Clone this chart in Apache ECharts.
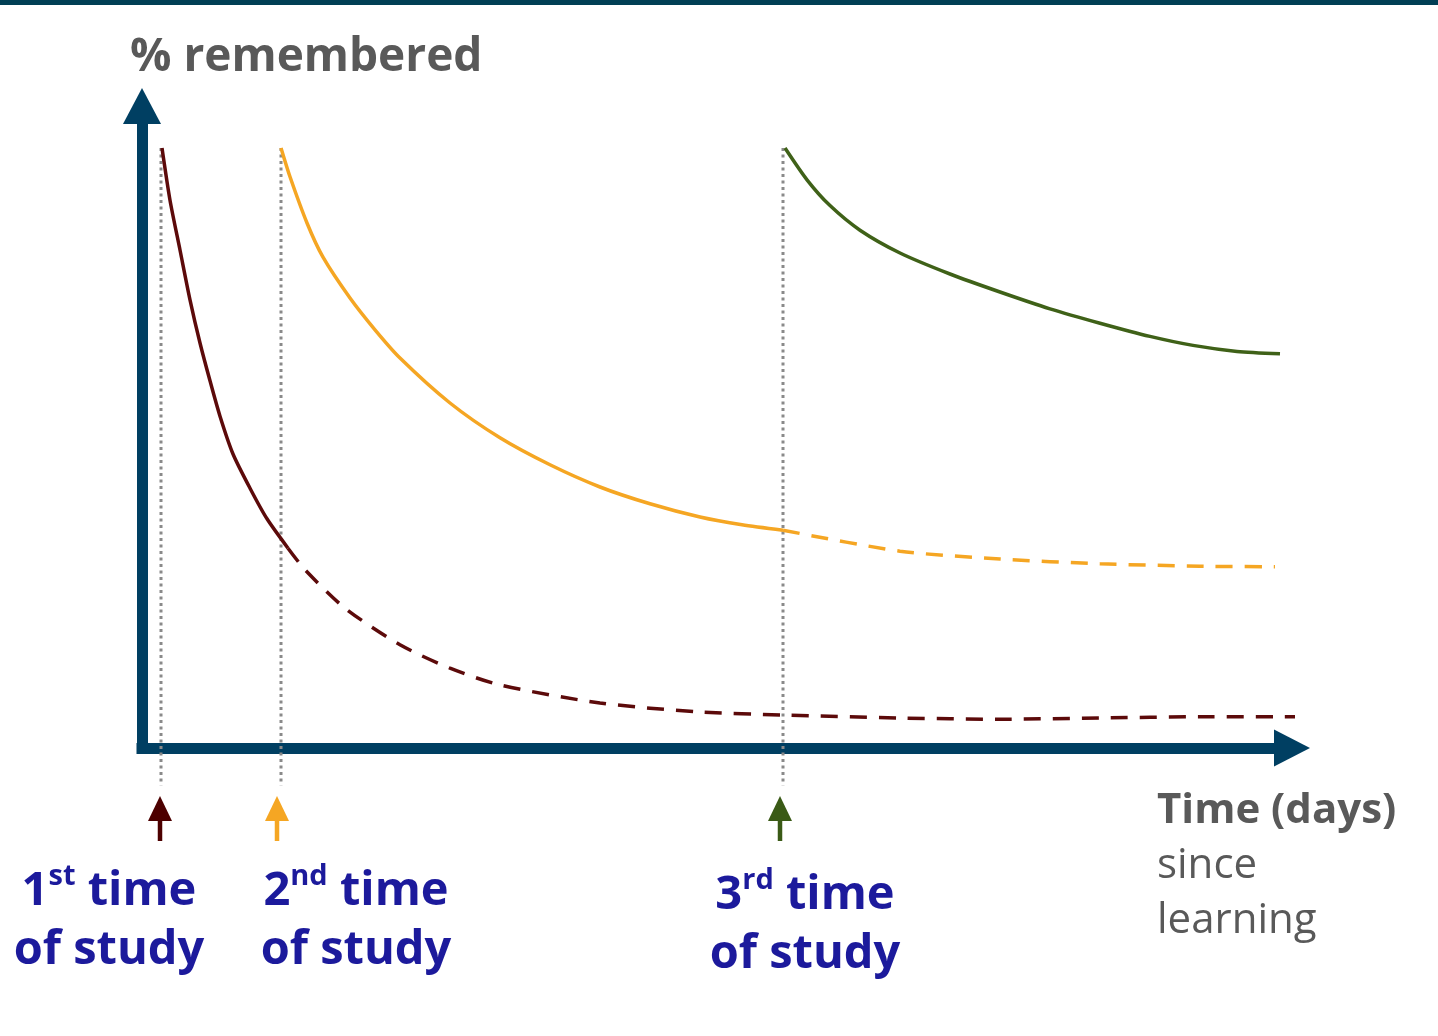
<!DOCTYPE html>
<html>
<head>
<meta charset="utf-8">
<script src="https://cdn.jsdelivr.net/npm/echarts@6/dist/echarts.min.js"></script>
<style>
html,body{margin:0;padding:0;background:#fff;}
#chart{width:1438px;height:1036px;}
</style>
</head>
<body>
<div id="chart"></div>
<script>
// ---- data (x: time units, y: % remembered) ----
const studyTimes = [1.9, 13.9, 64.1];
const arrowTimes = [1.8, 13.5, 63.8];
const studyLabels = ['1|st', '2|nd', '3|rd'];
const firstSolid = [[2,100],[2.8,91.3],[3.8,83],[4.8,74.7],[5.8,67.5],[6.8,61.2],[7.8,55.3],[9.1,49],[10.8,43.3],[12.5,38.2],[14.6,33.3]];
const firstDashed = [[14.6,33.3],[16.3,29.7],[20.3,23.3],[25.8,17.2],[30.8,13.3],[35.8,10.5],[45.8,7.5],[55.8,6],[64.1,5.5],[75.8,5],[85.8,4.8],[95.8,5],[105.8,5.2],[116.3,5.2]];
const secondSolid = [[13.9,100],[14.8,95.2],[16.5,87.5],[18.1,81.8],[20.8,75],[23.3,69.7],[25.8,65],[30.8,57.5],[35.8,51.7],[40.8,47.2],[45.8,43.5],[50.8,40.7],[55.8,38.5],[60,37.2],[64.1,36.3]];
const secondDashed = [[64.1,36.3],[75.8,32.8],[85.8,31.5],[95.8,30.7],[105.8,30.3],[113.3,30.2]];
const thirdSolid = [[64.3,100],[66.5,94.7],[68.8,90.4],[71.8,86.3],[75.8,82.5],[80.8,79],[85.8,76],[90.8,73.2],[95.8,70.8],[100.8,68.6],[105.1,67.1],[109.5,66.1],[113.8,65.7]];
const guideTop = 100, guideBottom = -6.2;
const arrowHead = -10.1, arrowTail = -15.5;
const yAxisTitle = '% remembered';
const xAxisTitle = ['Time (days)', 'since', 'learning'];

const C_AXIS = '#003f62', C_RED = '#5c0a0a', C_ORANGE = '#f5a623', C_GREEN = '#3f6118';
const arrowColors = ['#4d0000', '#f5a623', '#3a5a16'];
const C_BLUE = '#1c1a9c', C_GRAY = '#595959';
const FONT = '"Open Sans", "Noto Sans", sans-serif';

const chart = echarts.init(document.getElementById('chart'), null, {renderer: 'canvas'});

const series = [];
// vertical dotted guides
studyTimes.forEach(t => {
  series.push({type:'line', data:[[t,guideTop],[t,guideBottom]], symbol:'none', clip:false, silent:true,
    lineStyle:{color:'#8a8a8a', width:3, type:[3,3.5]}, z:1});
});
function curve(data, color, dashed) {
  return {type:'line', data:data, smooth:0.25, symbol:'none', clip:false, silent:true,
    lineStyle:{color:color, width:3.5, type: dashed ? [17,12] : 'solid', cap:'butt'}, z:3};
}
series.push(curve(firstSolid, C_RED, false));
series.push(curve(firstDashed, C_RED, true));
series.push(curve(secondSolid, C_ORANGE, false));
series.push(curve(secondDashed, C_ORANGE, true));
series.push(curve(thirdSolid, C_GREEN, false));
// study arrows
arrowTimes.forEach((t, i) => {
  series.push({type:'line', clip:false, silent:true, showSymbol:true,
    data:[{value:[t,arrowTail], symbol:'none'}, {value:[t,arrowHead], symbol:'triangle', symbolSize:[24,25]}],
    lineStyle:{color:arrowColors[i], width:4.5}, itemStyle:{color:arrowColors[i]}, z:4});
});

const labelX = [109, 356, 805];
const labelY = [862, 862, 866];
const graphics = [
  {type:'rect', left:0, top:0, shape:{width:1438, height:5}, style:{fill:'#013f55'}},
  {type:'text', left:130, top:35, style:{text:yAxisTitle, font:'bold 46px ' + FONT, fill:C_GRAY}},
  {type:'text', left:1157, top:790, style:{
    text:'{b|' + xAxisTitle[0] + '}\n{n|' + xAxisTitle[1] + '}\n{n|' + xAxisTitle[2] + '}',
    rich:{
      b:{fontFamily:FONT, fontWeight:'bold', fontSize:42, lineHeight:55, fill:C_GRAY, color:C_GRAY},
      n:{fontFamily:FONT, fontWeight:'normal', fontSize:42, lineHeight:55, fill:C_GRAY, color:C_GRAY}
    }}}
];
studyLabels.forEach((s, i) => {
  const parts = s.split('|');
  graphics.push({type:'text', x:labelX[i], y:labelY[i], style:{
    text:'{b|' + parts[0] + '}{s|' + parts[1] + '}{b| time}\n{b|of study}',
    align:'center', verticalAlign:'top',
    rich:{
      b:{fontFamily:FONT, fontWeight:'bold', fontSize:47, lineHeight:59, color:C_BLUE, fill:C_BLUE},
      s:{fontFamily:FONT, fontWeight:'bold', fontSize:29, lineHeight:48, verticalAlign:'top', color:C_BLUE, fill:C_BLUE}
    }}});
});

const axisCommon = {
  axisTick:{show:false}, axisLabel:{show:false}, splitLine:{show:false}
};
chart.setOption({
  animation:false,
  backgroundColor:'#ffffff',
  grid:{left:142, right:146, top:106, bottom:288},
  xAxis:Object.assign({type:'value', min:0, max:115,
    axisLine:{show:true, symbol:['none','triangle'], symbolSize:[37,36], lineStyle:{color:C_AXIS, width:11, cap:'square'}}}, axisCommon),
  yAxis:Object.assign({type:'value', min:0, max:107,
    axisLine:{show:true, symbol:['none','triangle'], symbolSize:[38,36], lineStyle:{color:C_AXIS, width:11, cap:'square'}}}, axisCommon),
  series:series,
  graphic:graphics
});
</script>
</body>
</html>
